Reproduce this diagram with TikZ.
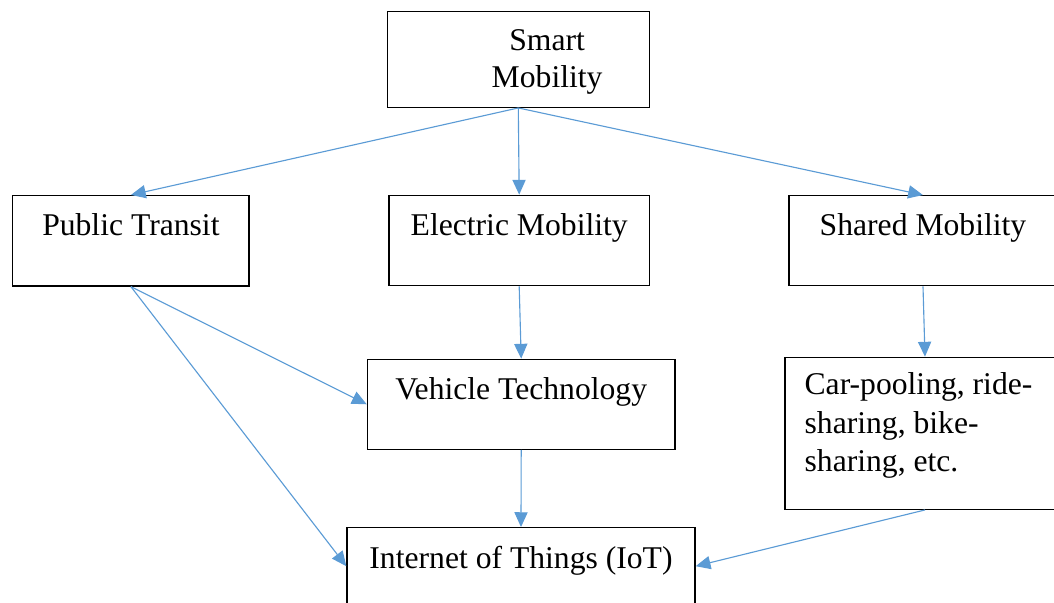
\documentclass[tikz,border=0pt]{standalone}
\usepackage{fontspec}
\setmainfont{Liberation Serif}
\definecolor{linkblue}{RGB}{91,155,213}
\usetikzlibrary{arrows.meta, positioning}
\tikzset{
	mbox/.style={rectangle, draw=black, fill=white, line width=0.9pt, inner sep=0pt},
	mtext/.style={anchor=north, inner sep=0pt, align=center, font=\fontsize{22.5}{26}\selectfont, yshift=-0.46cm},
	link/.style={-{Triangle[length=0.37cm, width=0.33cm]}, line width=0.8pt, draw=linkblue},
}

\begin{document}
\begin{tikzpicture}[x=0.025cm, y=-0.025cm]
	\useasboundingbox (0,0) rectangle (1054,603);
	\node[mbox, minimum width=6.55cm, minimum height=2.39cm, label={[mtext, xshift=0.72cm]north:{Smart\\Mobility}}] (smart) at (518.3,59.5) {};
	\node[mbox, minimum width=5.91cm, minimum height=2.26cm, label={[mtext]north:{Public Transit}}] (transit) at (130.9,240.8) {};
	\node[mbox, minimum width=6.51cm, minimum height=2.26cm, label={[mtext]north:{Electric Mobility}}] (electric) at (519.2,240.5) {};
	\node[mbox, minimum width=6.7cm, minimum height=2.25cm, label={[mtext]north:{Shared Mobility}}] (shared) at (923,240.7) {};
	\node[mbox, minimum width=7.69cm, minimum height=2.25cm, label={[mtext]north:{Vehicle Technology}}] (vehicle) at (521.2,404.3) {};
	\node[mbox, minimum width=7cm, minimum height=3.8cm, label={[mtext, anchor=north west, align=left, xshift=0.5cm, yshift=0.06cm, font=\fontsize{22.5}{27.4}\selectfont]north west:{Car-pooling, ride-\\sharing, bike-\\sharing, etc.}}] (carpool) at (925,433.3) {};
	\node[mbox, minimum width=8.7cm, minimum height=1.925cm, label={[mtext]north:{Internet of Things (IoT)}}] (iot) at (521,566.2) {};
	\foreach \x in {transit,electric,shared}{\draw[link] (smart.south) -- (\x.north);}
	\draw[link] (electric.south) -- (vehicle.north);
	\draw[link] (shared.south) -- (carpool.north);
	\draw[link] (transit.south) -- (vehicle.west);
	\draw[link] (transit.south) -- (iot.west);
	\draw[link] (vehicle.south) -- (iot.north);
	\draw[link] (carpool.south) -- (iot.east);
\end{tikzpicture}
\end{document}
